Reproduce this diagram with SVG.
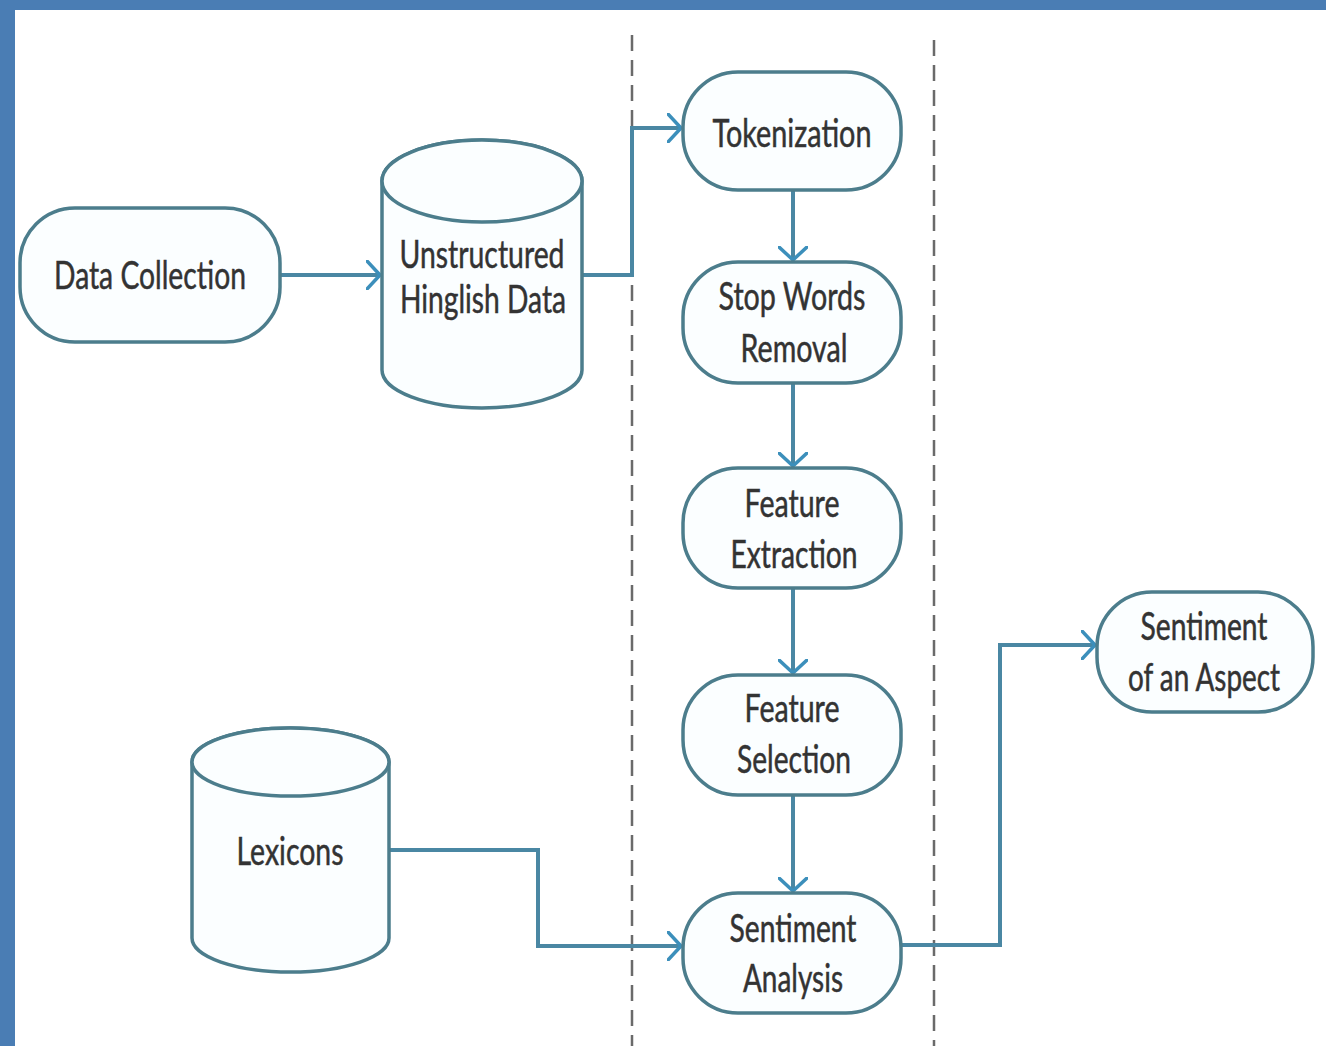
<svg xmlns="http://www.w3.org/2000/svg" width="1326" height="1046" viewBox="0 0 1326 1046">
<defs>
<marker id="arr" viewBox="0 0 16 30" refX="14" refY="15" markerWidth="16" markerHeight="30" markerUnits="userSpaceOnUse" orient="auto">
<path d="M1,1 L14,15 L1,29" fill="none" stroke="#3c8fbb" stroke-width="3.5" stroke-linejoin="round" stroke-linecap="round"/>
</marker>
<style>
.node{fill:#fbfeff;stroke:#4c7d8c;stroke-width:3.5}
.lbl{font-family:Lato,"Open Sans","Liberation Sans",sans-serif;font-size:38px;fill:#333333;text-anchor:middle;stroke:#333333;stroke-width:0.5}
.conn{fill:none;stroke:#4a87a3;stroke-width:4}
.lane{fill:none;stroke:#6a6a6a;stroke-width:2.5;stroke-dasharray:16 9}
</style>
</defs>
<rect x="0" y="0" width="1326" height="1046" fill="#ffffff"/>
<rect x="0" y="0" width="1326" height="10" fill="#4a7db4"/>
<rect x="0" y="0" width="15" height="1046" fill="#4a7db4"/>

<g id="lanes">
<line class="lane" x1="632" y1="35" x2="632" y2="1046"/>
<line class="lane" x1="934" y1="40" x2="934" y2="1046"/>
</g>

<g id="connectors">
<path class="conn" d="M280,275 L380,275" marker-end="url(#arr)"/>
<path class="conn" d="M582,275 L632,275 L632,128 L681,128" marker-end="url(#arr)"/>
<path class="conn" d="M793,190 L793,260" marker-end="url(#arr)"/>
<path class="conn" d="M793,383 L793,466" marker-end="url(#arr)"/>
<path class="conn" d="M793,588 L793,673" marker-end="url(#arr)"/>
<path class="conn" d="M793,795 L793,891" marker-end="url(#arr)"/>
<path class="conn" d="M389,850 L538,850 L538,946 L681,946" marker-end="url(#arr)"/>
<path class="conn" d="M901,945 L1000,945 L1000,645 L1095,645" marker-end="url(#arr)"/>
</g>

<g id="data-collection">
<rect class="node" x="20" y="208" width="260" height="134" rx="55" ry="55"/>
<text class="lbl" x="150" y="289" textLength="192" lengthAdjust="spacingAndGlyphs">Data Collection</text>
</g>

<g id="unstructured-data">
<path class="node" d="M382,181 L382,370 A100,38 0 0 0 582,370 L582,181 A100,41 0 0 0 382,181 Z"/>
<ellipse class="node" cx="482" cy="181" rx="100" ry="41"/>
<text class="lbl" x="482" y="268" textLength="165" lengthAdjust="spacingAndGlyphs">Unstructured</text>
<text class="lbl" x="483" y="313" textLength="166" lengthAdjust="spacingAndGlyphs">Hinglish Data</text>
</g>

<g id="tokenization">
<rect class="node" x="683" y="72" width="218" height="118" rx="55" ry="55"/>
<text class="lbl" x="792" y="147" textLength="159" lengthAdjust="spacingAndGlyphs">Tokenization</text>
</g>

<g id="stop-words-removal">
<rect class="node" x="683" y="262" width="218" height="121" rx="55" ry="55"/>
<text class="lbl" x="792" y="310" textLength="147" lengthAdjust="spacingAndGlyphs">Stop Words</text>
<text class="lbl" x="794" y="362" textLength="107" lengthAdjust="spacingAndGlyphs">Removal</text>
</g>

<g id="feature-extraction">
<rect class="node" x="683" y="468" width="218" height="120" rx="55" ry="55"/>
<text class="lbl" x="792" y="517" textLength="95" lengthAdjust="spacingAndGlyphs">Feature</text>
<text class="lbl" x="794" y="568" textLength="127" lengthAdjust="spacingAndGlyphs">Extraction</text>
</g>

<g id="feature-selection">
<rect class="node" x="683" y="675" width="218" height="120" rx="55" ry="55"/>
<text class="lbl" x="792" y="722" textLength="95" lengthAdjust="spacingAndGlyphs">Feature</text>
<text class="lbl" x="794" y="773" textLength="114" lengthAdjust="spacingAndGlyphs">Selection</text>
</g>

<g id="sentiment-analysis">
<rect class="node" x="683" y="893" width="218" height="120" rx="55" ry="55"/>
<text class="lbl" x="793" y="942" textLength="127" lengthAdjust="spacingAndGlyphs">Sentiment</text>
<text class="lbl" x="793" y="992" textLength="100" lengthAdjust="spacingAndGlyphs">Analysis</text>
</g>

<g id="lexicons">
<path class="node" d="M192,762 L192,938 A98.5,34 0 0 0 389,938 L389,762 A98.5,34 0 0 0 192,762 Z"/>
<ellipse class="node" cx="290.5" cy="762" rx="98.5" ry="34"/>
<text class="lbl" x="290" y="865" textLength="107" lengthAdjust="spacingAndGlyphs">Lexicons</text>
</g>

<g id="sentiment-aspect">
<rect class="node" x="1097" y="592" width="216" height="120" rx="55" ry="55"/>
<text class="lbl" x="1204" y="640" textLength="127" lengthAdjust="spacingAndGlyphs">Sentiment</text>
<text class="lbl" x="1204" y="691" textLength="152" lengthAdjust="spacingAndGlyphs">of an Aspect</text>
</g>
</svg>
